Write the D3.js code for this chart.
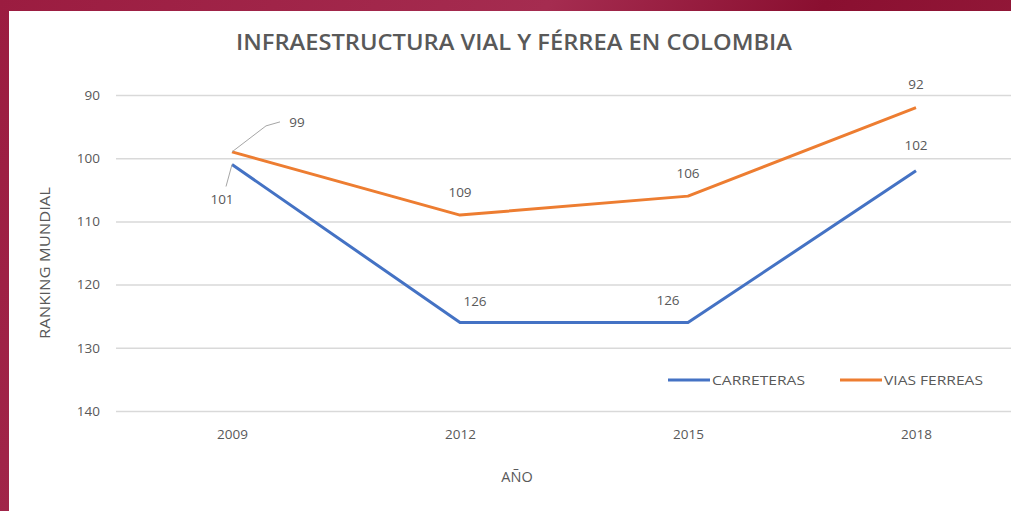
<!DOCTYPE html>
<html><head><meta charset="utf-8">
<script src="https://cdn.jsdelivr.net/npm/d3@7"></script>
<style>html,body{margin:0;padding:0;background:#fff;}</style>
</head><body>
<svg id="c" width="1011" height="511"></svg>
<script>
const years = ["2009", "2012", "2015", "2018"];
const carreteras = [101, 126, 126, 102];
const viasFerreas = [99, 109, 106, 92];
const yTicks = [90, 100, 110, 120, 130, 140];
const seriesNames = ["CARRETERAS", "VIAS FERREAS"];
const seriesColors = ["#4472C4", "#ED7D31"];
const title = "INFRAESTRUCTURA VIAL Y FÉRREA EN COLOMBIA";
const xTitle = "AÑO";
const yTitle = "RANKING MUNDIAL";

const svg = d3.select("#c");
const font = "'Open Sans', 'Liberation Sans', sans-serif";
const gray = "#595959";

// background frame
const defs = svg.append("defs");
const grad = defs.append("linearGradient").attr("id","bg").attr("x1","0").attr("x2","1").attr("y1","0").attr("y2","0.3");
grad.append("stop").attr("offset","0").attr("stop-color","#9b1c40");
grad.append("stop").attr("offset","0.5").attr("stop-color","#a52c50");
grad.append("stop").attr("offset","0.75").attr("stop-color","#8a0f30");
grad.append("stop").attr("offset","1").attr("stop-color","#941a3a");
svg.append("rect").attr("width",1011).attr("height",511).attr("fill","url(#bg)");
svg.append("rect").attr("x",9).attr("y",11).attr("width",1002).attr("height",500).attr("fill","#fff");

const x = d3.scalePoint().domain(years).range([232, 916]);
const y = d3.scaleLinear().domain([90, 140]).range([95, 411]);

// gridlines
const yAxis = d3.axisLeft(y).tickValues(yTicks).tickSize(-(1030-116)).tickPadding(16).tickFormat(d3.format("d"));
const gy = svg.append("g").attr("transform","translate(116,0)").call(yAxis);
gy.select(".domain").remove();
gy.selectAll(".tick line").attr("stroke","#d9d9d9").attr("stroke-width",1.5);
gy.selectAll(".tick text").attr("fill",gray).attr("font-family",font).attr("font-size",13.5);

// x axis labels
const xAxis = d3.axisBottom(x).tickSize(0).tickPadding(0);
const gx = svg.append("g").attr("transform","translate(0,429)").call(xAxis);
gx.select(".domain").remove();
gx.selectAll(".tick text").attr("fill",gray).attr("font-family",font).attr("font-size",13.5);

// titles
svg.append("text").attr("x",514).attr("y",50).attr("text-anchor","middle")
  .attr("font-family",font).attr("font-weight","600").attr("font-size",21).attr("fill",gray)
  .attr("textLength",556).attr("lengthAdjust","spacingAndGlyphs")
  .text(title);
svg.append("text").attr("x",517).attr("y",482).attr("text-anchor","middle")
  .attr("font-family",font).attr("font-size",14.5).attr("fill",gray).text(xTitle);
svg.append("text").attr("transform","translate(50,263) rotate(-90)").attr("text-anchor","middle")
  .attr("font-family",font).attr("font-size",14).attr("fill",gray)
  .attr("textLength",152).attr("lengthAdjust","spacingAndGlyphs").text(yTitle);

// lines
const line = d3.line().x((d,i)=>x(years[i])).y(d=>y(d));
[carreteras, viasFerreas].forEach((s,k)=>{
  svg.append("path").datum(s).attr("d",line).attr("fill","none")
    .attr("stroke",seriesColors[k]).attr("stroke-width",3).attr("stroke-linejoin","round");
});

// data labels (offsets relative to points)
const labelOffsets = [
  [[-10,35],[15,-21],[-20,-22],[0,-26]],
  [[65,-30],[0,-23],[0,-23],[0,-23]]
];
[carreteras, viasFerreas].forEach((s,k)=>{
  s.forEach((v,i)=>{
    const [dx,dy] = labelOffsets[k][i];
    svg.append("text").attr("x",x(years[i])+dx).attr("y",y(v)+dy).attr("dy","0.35em")
      .attr("text-anchor","middle").attr("font-family",font).attr("font-size",13.5)
      .attr("fill",gray).text(v);
  });
});
// leader lines
const p0 = [x(years[0]), y(viasFerreas[0])];
svg.append("path").attr("d",`M${p0[0]},${p0[1]} L${p0[0]+34},${p0[1]-26} L${p0[0]+48},${p0[1]-30}`)
  .attr("fill","none").attr("stroke","#a6a6a6").attr("stroke-width",1);
const p1 = [x(years[0]), y(carreteras[0])];
svg.append("path").attr("d",`M${p1[0]},${p1[1]} L${p1[0]-6},${p1[1]+22}`)
  .attr("fill","none").attr("stroke","#a6a6a6").attr("stroke-width",1);

// legend
const legendX = [668, 840];
const legendW = [93, 99];
seriesNames.forEach((n,k)=>{
  svg.append("line").attr("x1",legendX[k]).attr("x2",legendX[k]+42).attr("y1",380).attr("y2",380)
    .attr("stroke",seriesColors[k]).attr("stroke-width",3);
  svg.append("text").attr("x",legendX[k]+44).attr("y",380).attr("dy","0.35em")
    .attr("font-family",font).attr("font-size",13.5).attr("fill",gray)
    .attr("textLength",legendW[k]).attr("lengthAdjust","spacingAndGlyphs").text(n);
});
</script>
</body></html>
